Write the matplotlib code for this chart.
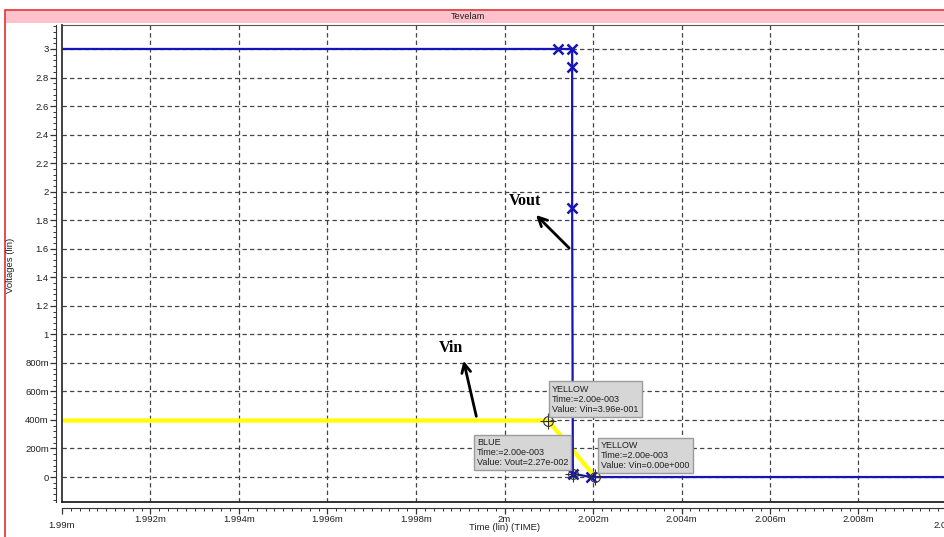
import matplotlib
matplotlib.use("Agg")
import matplotlib.pyplot as plt
from matplotlib.ticker import FixedLocator, FuncFormatter, MultipleLocator
from matplotlib.patches import Rectangle

# ---------------- data ----------------
vout_time = [1.990e-3, 2.00121e-3, 2.001529e-3, 2.001529e-3, 2.001529e-3, 2.001545e-3, 2.00196e-3, 2.010e-3]
vout_vals = [3.0, 3.0, 3.0, 2.874, 1.886, 0.0227, 0.0, 0.0]
vout_markers = [1, 2, 3, 4, 5, 6]

vin_time = [1.990e-3, 2.000985e-3, 2.00205e-3]
vin_vals = [0.396, 0.396, 0.0]

x_ticks = [1.990e-3, 1.992e-3, 1.994e-3, 1.996e-3, 1.998e-3, 2.000e-3,
           2.002e-3, 2.004e-3, 2.006e-3, 2.008e-3, 2.010e-3]
y_ticks = [0, 0.2, 0.4, 0.6, 0.8, 1.0, 1.2, 1.4, 1.6, 1.8, 2.0, 2.2, 2.4, 2.6, 2.8, 3.0]

tooltips = [
    ("YELLOW\nTime:=2.00e-003\nValue: Vin=3.96e-001", 2.000985e-3, 0.396, (4, 36)),
    ("BLUE\nTime:=2.00e-003\nValue: Vout=2.27e-002", 2.001545e-3, 0.0227, (-96, 36)),
    ("YELLOW\nTime:=2.00e-003\nValue: Vin=0.00e+000", 2.00205e-3, 0.0, (6, 36)),
]

# ---------------- figure ----------------
W, H = 945, 537
fig = plt.figure(figsize=(W / 100, H / 100), dpi=100)
fig.patch.set_facecolor("white")

def fx(px):
    return px / W

def fy(py):
    return 1 - py / H

# outer red border and pink title bar
fig.patches.append(Rectangle((fx(5), fy(540)), fx(945) - fx(5) + 0.01, fy(10) - fy(540),
                             transform=fig.transFigure, fill=False, ec="#e03030", lw=1.2))
fig.patches.append(Rectangle((fx(6), fy(23)), 1.0, fy(11) - fy(23),
                             transform=fig.transFigure, fc="#ffc2cc", ec="none"))
fig.text(fx(468), fy(16.5), "Tevelam", ha="center", va="center", fontsize=6.6,
         family="Liberation Sans", color="#202020")

ax = fig.add_axes([fx(62), fy(502), fx(947) - fx(62), fy(25) - fy(502)])
ax.set_xlim(1.990e-3, 2.010e-3)
ax.set_ylim(-0.175, 3.168)

# grid
for xt in x_ticks[1:-1]:
    ax.axvline(xt, color="#444444", lw=0.9, ls=(0, (3.5, 2.5)), zorder=1)
for yt in y_ticks:
    ax.axhline(yt, color="#444444", lw=0.9, ls=(0, (3.5, 2.5)), zorder=1)

# traces
ax.plot(vin_time, vin_vals, color="#ffff00", lw=3.0, zorder=3, solid_capstyle="butt")
ax.plot(vout_time, vout_vals, color="#1414b8", lw=1.6, zorder=4,
        marker="x", markevery=vout_markers, markersize=7, markeredgewidth=1.8)

# cursor marks
for _, tx, ty, _ in tooltips:
    ax.plot([tx], [ty], marker="o", ms=7, mfc="none", mec="#303030", mew=0.8, zorder=6)
    ax.plot([tx], [ty], marker="+", ms=11, mec="#303030", mew=0.8, zorder=6)

# tooltips
for txt, tx, ty, off in tooltips:
    ax.annotate(txt, xy=(tx, ty), xytext=off, textcoords="offset pixels",
                ha="left", va="top", fontsize=6.5, family="Liberation Sans",
                color="#202020", linespacing=1.15, zorder=8,
                bbox=dict(boxstyle="square,pad=0.35", fc="#d6d6d6", ec="#9c9c9c", lw=1.0))

# labels with arrows
ax.annotate("", xy=(2.000668e-3, 1.850), xytext=(2.0015066e-3, 1.591),
            arrowprops=dict(arrowstyle="->", lw=2.0, color="black", mutation_scale=16), zorder=7)
ax.text(2.000464e-3, 1.935, "Vout", ha="center", va="center", fontsize=11.5,
        family="Liberation Serif", fontweight="bold", color="black", zorder=7)
ax.annotate("", xy=(1.999060e-3, 0.834), xytext=(1.999377e-3, 0.4065),
            arrowprops=dict(arrowstyle="->", lw=2.0, color="black", mutation_scale=16), zorder=7)
ax.text(1.998788e-3, 0.904, "Vin", ha="center", va="center", fontsize=11.5,
        family="Liberation Serif", fontweight="bold", color="black", zorder=7)

# axes / spines
ax.spines["right"].set_visible(False)
ax.spines["top"].set_color("#555555")
ax.spines["left"].set_position(("outward", 4))
ax.spines["bottom"].set_position(("outward", 4))
ax.spines["left"].set_color("#333333")
ax.spines["bottom"].set_color("#333333")
ax.plot([0, 0], [0, 1], transform=ax.transAxes, color="#333333", lw=1.3, clip_on=False, zorder=9)
ax.plot([0, 1], [0, 0], transform=ax.transAxes, color="#222222", lw=1.3, clip_on=False, zorder=9)

def xfmt(v, pos):
    return f"{v * 1e3:g}m"

def yfmt(v, pos):
    if abs(v) < 1e-9:
        return "0"
    if v < 0.999:
        return f"{v * 1000:g}m"
    return f"{v:g}"

ax.xaxis.set_major_locator(FixedLocator(x_ticks))
ax.xaxis.set_major_formatter(FuncFormatter(xfmt))
ax.xaxis.set_minor_locator(MultipleLocator(0.2e-6))
ax.yaxis.set_major_locator(FixedLocator(y_ticks))
ax.yaxis.set_major_formatter(FuncFormatter(yfmt))
ax.yaxis.set_minor_locator(MultipleLocator(0.04))

ax.tick_params(axis="both", which="major", length=4, width=0.9, color="#333333",
               labelsize=6.8, labelcolor="#202020", pad=1.5)
ax.tick_params(axis="both", which="minor", length=2.2, width=0.7, color="#333333")
for lbl in ax.get_xticklabels() + ax.get_yticklabels():
    lbl.set_family("Liberation Sans")

ticks = ax.xaxis.get_major_ticks()
ticks[0].set_pad(6)
ticks[-1].set_pad(6)
for t in (ticks[0], ticks[-1]):
    t.label1.set_family("Liberation Sans")

fig.text(fx(505), fy(528), "Time (lin) (TIME)", ha="center", va="center",
         fontsize=6.8, family="Liberation Sans", color="#202020")
fig.text(fx(11), fy(265), "Voltages (lin)", ha="center", va="center", rotation=90,
         fontsize=6.8, family="Liberation Sans", color="#202020")

fig.savefig("out.png", dpi=100)
